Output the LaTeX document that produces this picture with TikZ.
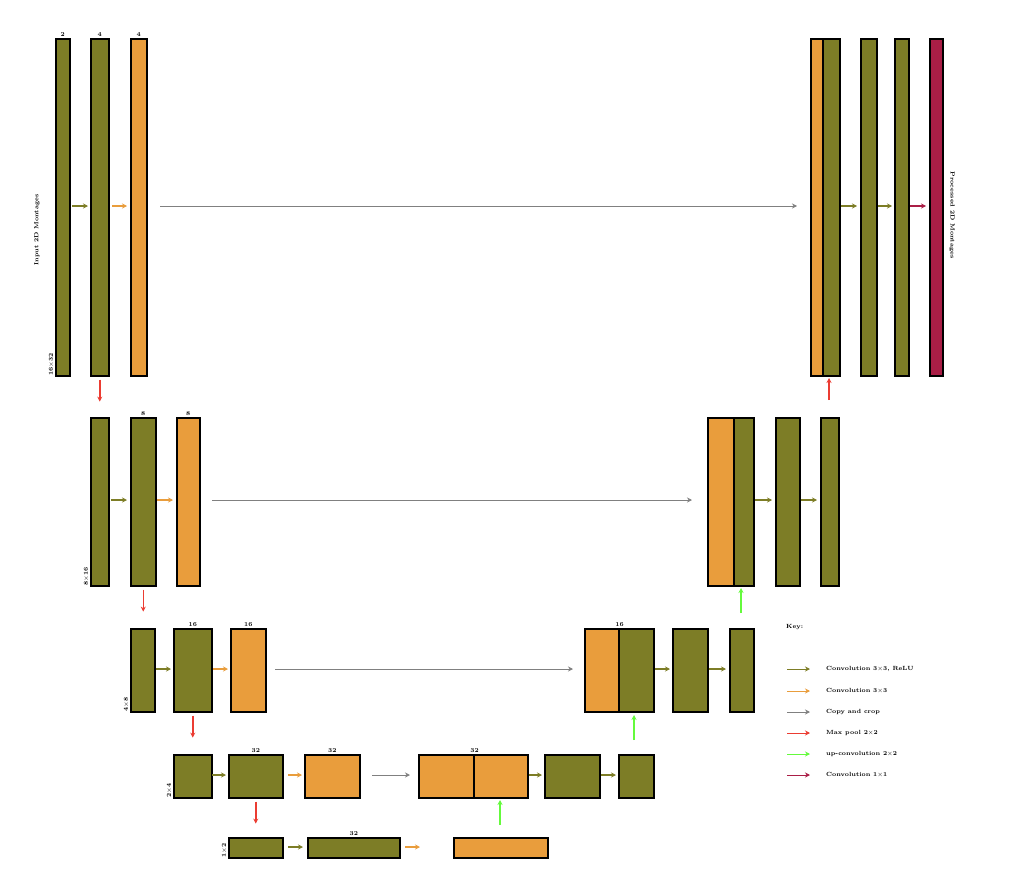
\documentclass[tikz,border=0pt]{standalone}
\usetikzlibrary{arrows.meta}
\definecolor{ol}{RGB}{125,125,38}
\definecolor{orng}{RGB}{233,157,60}
\definecolor{gr}{RGB}{128,128,128}
\definecolor{rd}{RGB}{235,60,50}
\definecolor{grn}{RGB}{100,250,60}
\definecolor{crim}{RGB}{170,30,70}
\begin{document}
\begin{tikzpicture}[x=1pt,y=-1pt,
 fm/.style={draw=black,line width=1.6pt},
 ar/.style={-{Stealth[length=5pt,width=5pt]},line width=1.4pt},
 lbl/.style={font=\fontsize{6}{7}\selectfont\bfseries,inner sep=1pt}]
\useasboundingbox (0,0) rectangle (1018,886);
\newcommand{\bx}[6]{\node[fm,fill=#2,minimum width=#5-#4,minimum height=#6,inner sep=0pt,anchor=north west] (#1) at (#4,#3) {};}
% level 1 (top 38, h 337)
\bx{a1}{ol}{38}{55}{69}{337}
\bx{a2}{ol}{38}{90}{108}{337}
\bx{a3}{orng}{38}{130}{146}{337}
\bx{o1}{orng}{38}{810}{822}{337}
\bx{o2}{ol}{38}{822}{839}{337}
\bx{o3}{ol}{38}{860}{876}{337}
\bx{o4}{ol}{38}{894}{908}{337}
\bx{o5}{crim}{38}{929}{942}{337}
% level 2
\bx{b1}{ol}{417}{90}{108}{168}
\bx{b2}{ol}{417}{130}{155}{168}
\bx{b3}{orng}{417}{176}{199}{168}
\bx{p1}{orng}{417}{707}{733}{168}
\bx{p2}{ol}{417}{733}{753}{168}
\bx{p3}{ol}{417}{775}{799}{168}
\bx{p4}{ol}{417}{820}{838}{168}
% level 3
\bx{c1}{ol}{628}{130}{154}{83}
\bx{c2}{ol}{628}{173}{211}{83}
\bx{c3}{orng}{628}{230}{265}{83}
\bx{q1}{orng}{628}{584}{618}{83}
\bx{q2}{ol}{628}{618}{653}{83}
\bx{q3}{ol}{628}{672}{707}{83}
\bx{q4}{ol}{628}{729}{753}{83}
% level 4
\bx{d1}{ol}{754}{173}{211}{43}
\bx{d2}{ol}{754}{228}{282}{43}
\bx{d3}{orng}{754}{304}{359}{43}
\bx{r1}{orng}{754}{418}{473}{43}
\bx{r2}{orng}{754}{473}{527}{43}
\bx{r3}{ol}{754}{544}{599}{43}
\bx{r4}{ol}{754}{618}{653}{43}
% level 5
\bx{e1}{ol}{837}{228}{282}{20}
\bx{e2}{ol}{837}{307}{399}{20}
\bx{e3}{orng}{837}{453}{547}{20}
% horizontal arrows
\draw[ar,ol] (72,206) -- (88,206);
\draw[ar,orng] (112,206) -- (127,206);
\draw[ar,gr,line width=1pt] (160,206) -- (797,206);
\draw[ar,ol] (841,206) -- (857,206);
\draw[ar,ol] (878,206) -- (892,206);
\draw[ar,crim] (910,206) -- (926,206);
\draw[ar,ol] (111,500) -- (127,500);
\draw[ar,orng] (157,500) -- (173,500);
\draw[ar,gr,line width=1pt] (212,500) -- (692,500);
\draw[ar,ol] (755,500) -- (772,500);
\draw[ar,ol] (801,500) -- (817,500);
\draw[ar,ol] (156,669) -- (171,669);
\draw[ar,orng] (213,669) -- (228,669);
\draw[ar,gr,line width=1pt] (275,669) -- (573,669);
\draw[ar,ol] (655,669) -- (670,669);
\draw[ar,ol] (709,669) -- (726,669);
\draw[ar,ol] (212,775) -- (226,775);
\draw[ar,orng] (288,775) -- (302,775);
\draw[ar,gr,line width=1pt] (372,775) -- (410,775);
\draw[ar,ol] (529,775) -- (542,775);
\draw[ar,ol] (601,775) -- (616,775);
\draw[ar,ol] (288,847) -- (303,847);
\draw[ar,orng] (405,847) -- (420,847);
% vertical arrows
\draw[ar,rd] (a2.south) ++(0,3) -- ++(0,22);
\draw[ar,rd] (b2.south) ++(0,3) -- ++(0,22);
\draw[ar,rd] (c2.south) ++(0,3) -- ++(0,22);
\draw[ar,rd] (d2.south) ++(0,3) -- ++(0,22);
\draw[ar,rd] (829,400) -- (829,378);
\draw[ar,grn] (741,613) -- (741,588);
\draw[ar,grn] (634,740) -- (634,715);
\draw[ar,grn] (500,825) -- (500,800);
% numbers
\node[lbl,above] at (a1.north) {2};
\node[lbl,above] at (a2.north) {4};
\node[lbl,above] at (a3.north) {4};
\node[lbl,above] at (b2.north) {8};
\node[lbl,above] at (b3.north) {8};
\node[lbl,above] at (c2.north) {16};
\node[lbl,above] at (c3.north) {16};
\node[lbl,above] at (q1.north east) {16};
\node[lbl,above] at (d2.north) {32};
\node[lbl,above] at (d3.north) {32};
\node[lbl,above] at (r1.north east) {32};
\node[lbl,above] at (e2.north) {32};
% side labels
\node[lbl,rotate=90,anchor=south west] at (a1.south west) {16$\times$32};
\node[lbl,rotate=90,anchor=south west] at (b1.south west) {8$\times$16};
\node[lbl,rotate=90,anchor=south west] at (c1.south west) {4$\times$8};
\node[lbl,rotate=90,anchor=south west] at (d1.south west) {2$\times$4};
\node[lbl,rotate=90,anchor=south west] at (e1.south west) {1$\times$2};
\node[lbl,rotate=90] at (37,230) {Input 2D Montages};
\node[lbl,rotate=-90] at (952,215) {Processed 2D Montages};
% key
\node[lbl,anchor=west] (key) at (785,627) {Key:};
\foreach \y/\c/\t [count=\i] in {669/ol/{Convolution 3$\times$3, ReLU},691/orng/{Convolution 3$\times$3},712/gr/{Copy and crop},733/rd/{Max pool 2$\times$2},754/grn/{up-convolution 2$\times$2},775/crim/{Convolution 1$\times$1}}{
 \coordinate (k\i) at (787,\y);
 \node[lbl,anchor=west] (kt\i) at (825,\y) {\t};
 \draw[ar,\c,line width=1pt] (k\i) -- ++(23,0);
}
\end{tikzpicture}
\end{document}
